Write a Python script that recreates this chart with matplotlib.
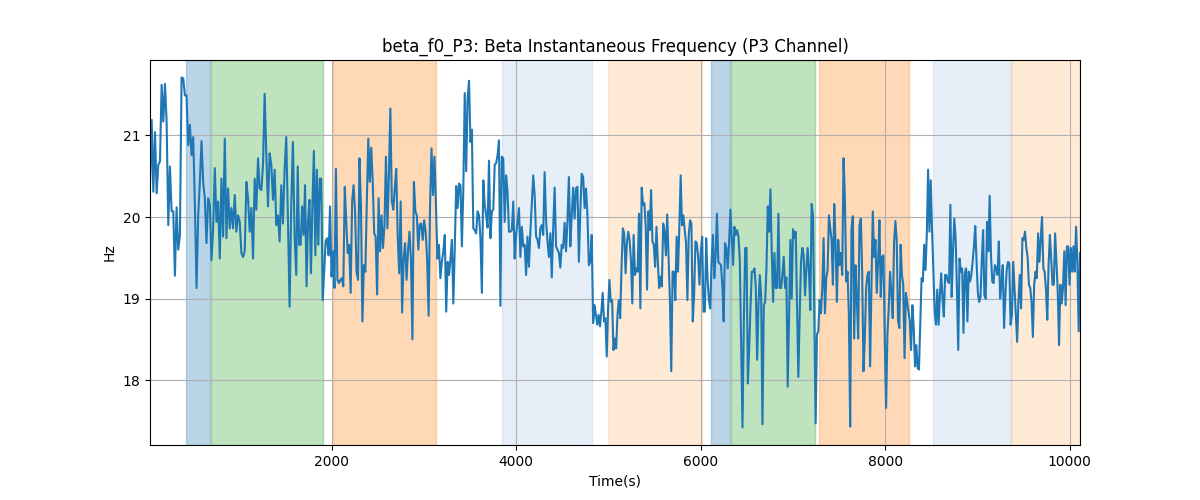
import numpy as np
import matplotlib
matplotlib.use('Agg')
import matplotlib.pyplot as plt

# Beta instantaneous frequency (Hz) in six stretches
seg1 = [20.41, 21.19, 20.31, 21.04, 20.29, 20.64, 20.68, 21.62, 21.17, 21.63,
        21.17, 19.90, 20.62, 20.07, 20.07, 19.28, 20.12, 19.60, 19.78, 21.71,
        21.70, 21.49, 21.49, 20.88, 21.13, 20.76, 20.98, 20.15, 19.13, 20.02,
        20.43, 20.93, 20.43, 20.23, 19.68, 20.23, 20.15, 19.47, 19.86, 20.60,
        19.94, 20.19, 19.49, 20.47, 19.76, 20.96, 19.74, 20.35, 19.86, 20.11,
        19.86, 20.27, 19.82, 20.02, 19.94, 19.56, 19.51, 19.58, 20.43, 20.23,
        19.82, 20.11, 19.49, 20.47, 20.09, 20.72, 20.35, 20.33, 20.64, 21.51,
        20.76, 20.13, 20.78, 20.64, 20.21, 20.58, 19.90, 20.02, 19.70, 20.39,
        19.92, 20.58, 20.98, 19.98, 18.90, 20.15, 20.92, 19.78]
seg2 = [19.29, 20.62, 19.66, 19.66, 20.13, 19.78, 20.39, 19.15, 19.94, 20.21,
        19.31, 20.15, 20.81, 19.53, 20.58, 19.66, 20.47, 20.47, 18.98, 19.33,
        19.70, 19.74, 19.53, 20.13, 19.27, 19.58, 19.13, 20.59, 19.23, 19.19,
        19.23, 19.25, 19.15, 20.37, 19.94, 19.56, 19.66, 19.07, 20.19, 20.39,
        20.07, 19.33, 19.23, 20.72, 20.15, 18.72, 19.41, 19.33, 20.19, 20.96,
        20.43, 20.85, 20.43, 19.80, 19.76, 19.05, 20.23, 19.58, 20.02, 19.62,
        19.90, 20.74, 19.86, 20.51, 21.33, 20.19, 20.09, 20.35, 20.59, 19.76,
        19.31, 20.19, 18.83, 19.49, 19.68, 19.23, 19.58, 19.82, 19.49, 18.50,
        20.43, 20.07, 20.02, 19.60, 19.91, 19.92, 19.72, 19.96, 19.82, 19.49,
        18.79, 20.15, 20.84, 20.27, 20.74, 20.15, 19.49, 19.66, 19.25, 19.45, 19.58]
seg3 = [19.78, 18.84, 19.45, 19.29, 19.49, 19.72, 18.94, 19.62, 20.38, 20.11,
        20.41, 20.39, 19.64, 20.35, 21.52, 20.56, 21.45, 21.67, 20.92, 21.07,
        19.86, 19.84, 19.80, 20.07, 20.02, 19.74, 19.07, 20.45, 20.15, 20.02,
        19.87, 20.69, 19.74, 20.07, 20.09, 20.64, 20.66, 20.76, 20.94, 18.91,
        20.74, 20.72, 19.94, 20.51, 20.31, 19.82, 19.82, 19.84, 20.19, 19.49,
        19.78, 19.94, 20.11, 19.51, 19.88, 19.64, 19.66, 19.29, 19.76, 19.39,
        19.82, 20.17, 20.51, 20.27, 19.76, 19.72, 19.62, 19.86, 19.90, 19.78,
        20.55, 19.96, 19.70, 19.51, 19.80, 19.26, 19.86, 20.36, 19.64, 19.60,
        19.56, 19.38, 19.66, 19.62, 19.93, 19.58, 19.96, 20.49, 19.64, 20.02,
        20.36, 19.98, 20.35, 20.37, 19.45, 20.07, 20.53, 20.49, 20.11, 20.35,
        20.02, 19.41, 19.45, 19.78, 18.70, 18.92]
seg4 = [18.80, 18.68, 18.80, 18.66, 18.84, 19.07, 18.72, 18.76, 18.29, 18.88,
        19.23, 18.96, 18.98, 18.37, 18.51, 18.39, 18.80, 18.98, 18.76, 19.39,
        19.86, 19.80, 19.31, 19.68, 19.82, 19.72, 19.47, 18.94, 19.78, 19.29,
        19.37, 19.33, 20.04, 18.88, 20.36, 20.15, 20.17, 19.88, 19.11, 20.07,
        19.84, 20.33, 19.70, 19.66, 19.39, 19.88, 19.45, 19.13, 19.27, 19.15,
        19.92, 19.82, 19.53, 20.03, 19.49, 18.98, 18.11, 19.33, 19.33, 18.98,
        19.76, 19.33, 19.86, 20.51, 19.90, 20.02, 19.84, 19.68, 18.98, 19.78,
        19.96, 19.92, 18.72, 19.04, 19.70, 19.68, 19.51, 19.17, 19.58, 19.76,
        18.84, 18.84, 19.74, 19.25, 18.98, 18.88, 19.45, 19.78, 19.25, 19.53,
        20.04, 19.45, 19.43, 19.41, 19.17, 18.72, 19.68, 19.62, 19.37, 19.68,
        20.09, 19.76, 19.41, 19.88, 19.78, 19.84, 19.76, 19.47, 18.43, 17.42, 18.72]
seg5 = [19.62, 19.62, 17.96, 18.39, 18.90, 19.33, 19.33, 19.37,
        19.13, 18.25, 18.92, 19.29, 19.04, 17.46, 18.92, 18.96, 19.37, 20.13,
        19.82, 20.34, 19.56, 18.96, 19.56, 19.13, 19.13, 20.04, 19.13, 19.13,
        19.29, 19.51, 19.13, 19.26, 17.92, 18.76, 19.72, 19.00, 19.85, 19.74,
        19.82, 18.96, 18.04, 18.80, 19.45, 19.62, 19.53, 19.04, 19.35, 19.62,
        19.33, 18.86, 20.16, 20.02, 18.80, 17.47, 18.56, 18.60, 18.98, 18.82,
        19.13, 19.74, 18.82, 19.25, 19.35, 20.02, 19.86, 19.72, 19.17, 20.16,
        19.68, 18.96, 19.72, 19.41, 19.56, 19.29, 20.72, 20.23, 19.21, 19.33,
        18.80, 17.43, 19.86, 20.01, 18.51, 19.41, 19.00, 18.51, 19.90, 19.98,
        19.33, 18.11, 18.51, 19.13, 19.29, 19.33, 18.17, 19.17, 20.07, 19.51,
        19.72, 19.07, 19.45, 19.96, 19.02, 19.51, 19.53, 18.51, 17.66, 18.56,
        18.88, 19.33, 19.07, 18.76, 19.68]
seg6 = [19.95, 19.72, 18.74, 18.64, 19.66, 19.29, 19.17, 18.27,
        19.07, 18.96, 18.84, 18.72, 18.37, 18.92, 18.64, 18.17, 18.43, 18.15,
        18.13, 18.68, 19.25, 19.21, 19.66, 19.35, 19.78, 20.58, 19.82, 20.45,
        19.84, 19.33, 18.84, 18.68, 19.11, 18.68, 19.04, 19.31, 19.00, 18.78,
        19.29, 19.29, 19.21, 19.19, 20.15, 19.02, 19.58, 19.98, 19.74, 19.13,
        18.37, 19.49, 19.33, 19.37, 18.58, 19.31, 19.37, 18.72, 19.33, 19.21,
        19.29, 19.45, 19.64, 19.89, 19.45, 19.07, 18.96, 19.02, 19.47, 19.84,
        19.04, 19.00, 19.94, 19.58, 20.26, 19.53, 19.21, 19.19, 19.41, 19.37,
        19.29, 19.70, 19.00, 19.17, 19.41, 18.64, 19.04, 19.35, 19.45, 19.43,
        18.68, 18.80, 19.45, 19.13, 18.80, 18.47, 18.98, 19.29, 18.88, 19.74,
        19.72, 19.82, 19.62, 19.51, 19.17, 19.13, 18.96, 18.53, 19.17, 19.33,
        19.25, 19.80, 19.45, 19.72, 20.00, 19.37, 19.33, 19.11, 18.74, 19.41,
        19.78, 19.49, 19.17, 19.17, 19.80, 19.45, 19.09, 18.43, 19.17, 18.94,
        19.13, 19.58, 18.92, 19.64, 19.64, 19.17, 19.62, 19.33, 19.64, 19.33,
        19.88, 19.45, 18.60, 19.56]
segments = [seg1, seg2, seg3, seg4, seg5, seg6]
# time (s) where each stretch begins, plus the last sample time
seg_starts = [32, 1617, 3227, 4866, 6483, 8111, 10112]

# shaded phases
phase_start = [426, 697, 2014, 3849, 4993, 6114, 6331, 7279, 8520, 9367]
phase_end = [683, 1910, 3136, 4819, 6013, 6320, 7243, 8263, 9360, 10112]
phase_color = ['C0', 'C2', 'C1', '#aec7e8', '#ffbb78',
               'C0', 'C2', 'C1', '#aec7e8', '#ffbb78']

times = []
for i, seg in enumerate(segments):
    last = i == len(segments) - 1
    times.append(np.linspace(seg_starts[i], seg_starts[i + 1], len(seg), endpoint=last))
t = np.concatenate(times)
freq = np.concatenate([np.array(s) for s in segments])

fig, ax = plt.subplots(figsize=(12, 5), dpi=100)
for s, e, c in zip(phase_start, phase_end, phase_color):
    ax.axvspan(s, e, color=c, alpha=0.3)
ax.plot(t, freq, color='C0')
ax.set_xlim(t[0], t[-1])
ax.set_title('beta_f0_P3: Beta Instantaneous Frequency (P3 Channel)')
ax.set_xlabel('Time(s)')
ax.set_ylabel('Hz')
ax.grid(True)
plt.savefig('out.png')
